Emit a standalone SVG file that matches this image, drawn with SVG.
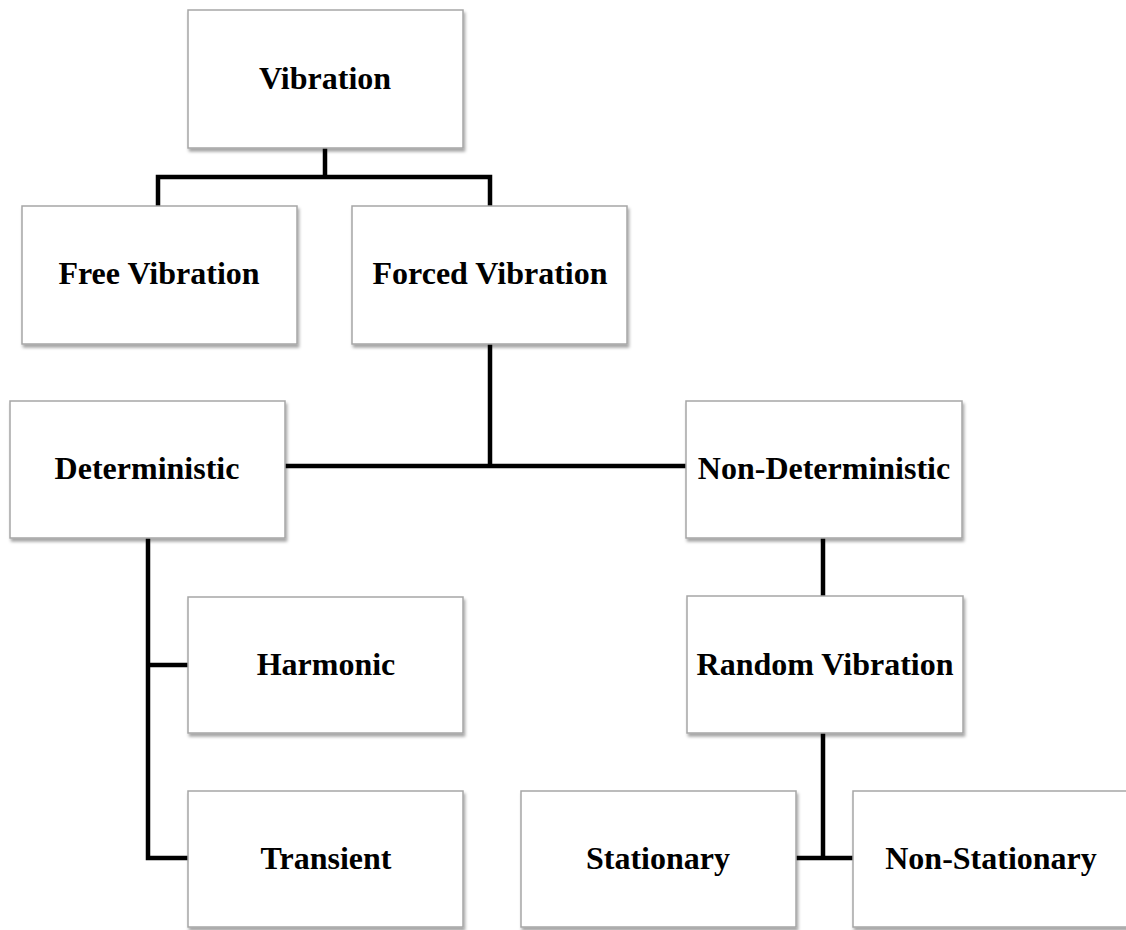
<svg xmlns="http://www.w3.org/2000/svg" width="1126" height="930" viewBox="0 0 1126 930">
<defs>
<filter id="sh" x="-10%" y="-10%" width="130%" height="130%">
<feDropShadow dx="1.5" dy="3" stdDeviation="1.8" flood-color="#000" flood-opacity="0.35"/>
</filter>
<style>
.box{fill:#fff;stroke:#a6a6a6;stroke-width:1.5;filter:url(#sh)}
.lbl{font-family:"Liberation Serif","Times New Roman",serif;font-weight:bold;font-size:32px;fill:#000;text-anchor:middle}
.c{fill:none;stroke:#000;stroke-width:4.5;stroke-linecap:square;stroke-linejoin:miter}
</style>
</defs>
<rect width="1126" height="930" fill="#fff"/>
<g id="connectors">
<path class="c" d="M325 148 V177 M158 206 V177 H490 V206"/>
<path class="c" d="M490 344 V466 M286 466 H686"/>
<path class="c" d="M823 538 V596"/>
<path class="c" d="M148 538 V858 H188 M148 665 H188"/>
<path class="c" d="M823 734 V858 M796 858 H853"/>
</g>
<g id="n-vibration"><rect class="box" x="188" y="10" width="275" height="138"/><text class="lbl" x="325" y="89">Vibration</text></g>
<g id="n-free"><rect class="box" x="22" y="206" width="275" height="138"/><text class="lbl" x="159" y="284">Free Vibration</text></g>
<g id="n-forced"><rect class="box" x="352" y="206" width="275" height="138"/><text class="lbl" x="490" y="284">Forced Vibration</text></g>
<g id="n-det"><rect class="box" x="10" y="401" width="275" height="137"/><text class="lbl" x="147" y="479">Deterministic</text></g>
<g id="n-nondet"><rect class="box" x="686" y="401" width="276" height="137"/><text class="lbl" x="824" y="479">Non-Deterministic</text></g>
<g id="n-harmonic"><rect class="box" x="188" y="597" width="275" height="136"/><text class="lbl" x="326" y="675">Harmonic</text></g>
<g id="n-random"><rect class="box" x="687" y="596" width="276" height="137"/><text class="lbl" x="825" y="675">Random Vibration</text></g>
<g id="n-transient"><rect class="box" x="188" y="791" width="275" height="136"/><text class="lbl" x="326" y="869">Transient</text></g>
<g id="n-stationary"><rect class="box" x="521" y="791" width="275" height="136"/><text class="lbl" x="658" y="869">Stationary</text></g>
<g id="n-nonstationary"><rect class="box" x="853" y="791" width="276" height="136"/><text class="lbl" x="991" y="869">Non-Stationary</text></g>
</svg>
